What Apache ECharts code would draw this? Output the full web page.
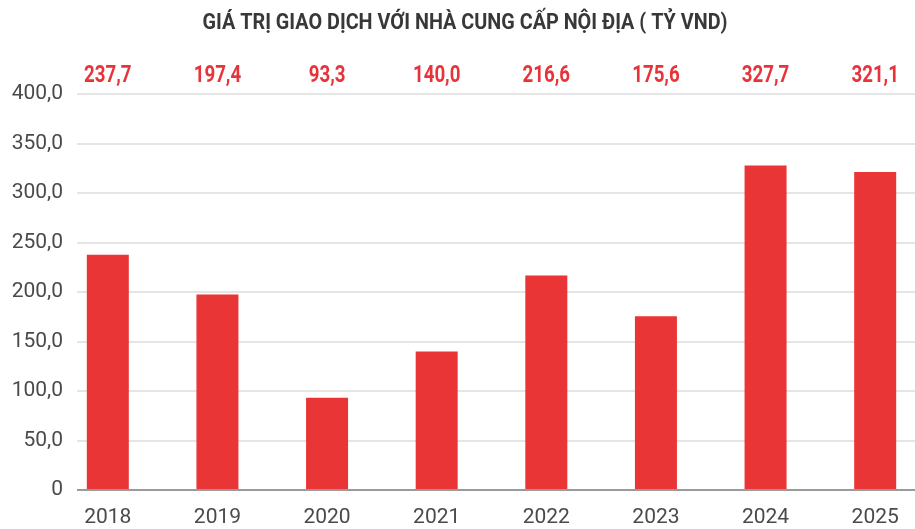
<!DOCTYPE html>
<html>
<head>
<meta charset="utf-8">
<script src="https://cdn.jsdelivr.net/npm/echarts@6/dist/echarts.min.js"></script>
<style>
  html, body { margin: 0; padding: 0; background: #ffffff; }
  #chart { width: 915px; height: 529px; }
</style>
</head>
<body>
<div id="chart"></div>
<script>
// Giá trị giao dịch với nhà cung cấp nội địa, tỷ VND
const years = ['2018', '2019', '2020', '2021', '2022', '2023', '2024', '2025'];
const values = [237.7, 197.4, 93.3, 140.0, 216.6, 175.6, 327.7, 321.1];
const yTicks = [0, 50, 100, 150, 200, 250, 300, 350, 400];
const titleText = 'GIÁ TRỊ GIAO DỊCH VỚI NHÀ CUNG CẤP NỘI ĐỊA ( TỶ VND)';

const fmt = v => v === 0 ? '0' : v.toFixed(1).replace('.', ',');
const font = '"Roboto", "Noto Sans", sans-serif';

const GRID_TOP = 94;
const GRID_BOTTOM = 39;

const chart = echarts.init(document.getElementById('chart'), null, { renderer: 'canvas' });

chart.setOption({
  animation: false,
  backgroundColor: '#ffffff',
  graphic: [
    {
      // condensed bold heading
      type: 'text',
      x: 465, y: 23,
      scaleX: 0.9,
      style: {
        text: titleText,
        fontFamily: font, fontWeight: 'bold', fontSize: 22,
        fill: '#383838', align: 'center', verticalAlign: 'middle'
      }
    }
  ],
  grid: [
    // gridlines and value axis
    { left: 77, right: 0, top: GRID_TOP, bottom: GRID_BOTTOM, outerBoundsMode: 'none' },
    // bars, categories and value captions (the last band runs past the right edge)
    { left: 53, width: 877, top: GRID_TOP, bottom: GRID_BOTTOM, outerBoundsMode: 'none' }
  ],
  xAxis: [
    { gridIndex: 0, type: 'category', data: years, show: false },
    {
      gridIndex: 1, type: 'category', data: years,
      axisLine: { show: false }, axisTick: { show: false },
      axisLabel: { fontFamily: font, fontSize: 21, color: '#4a4a4a', margin: 17 }
    }
  ],
  yAxis: [
    {
      gridIndex: 0, type: 'value', min: 0, max: 400, interval: 50,
      axisLine: { show: false }, axisTick: { show: false },
      splitLine: { lineStyle: { color: '#dcdcdc', width: 1.5 } },
      axisLabel: {
        fontFamily: font, fontSize: 21, color: '#4a4a4a', margin: 14,
        formatter: v => yTicks.includes(v) ? fmt(v) : ''
      }
    },
    { gridIndex: 1, type: 'value', min: 0, max: 400, interval: 50, show: false }
  ],
  series: [
    {
      type: 'bar', xAxisIndex: 1, yAxisIndex: 1,
      data: values, barWidth: 42,
      itemStyle: { color: '#ea3536' }
    },
    {
      // value captions in a row above the plot
      type: 'custom', xAxisIndex: 1, yAxisIndex: 1, clip: false,
      data: values.map((v, i) => [i, v]),
      renderItem: (params, api) => {
        const x = api.coord([api.value(0), 0])[0];
        return {
          type: 'text',
          x: x, y: params.coordSys.y - 18,
          scaleX: 0.78,
          style: {
            text: fmt(api.value(1)),
            fontFamily: font, fontWeight: 'bold', fontSize: 24,
            fill: '#e8333a', align: 'center', verticalAlign: 'middle'
          }
        };
      }
    },
    {
      // baseline at zero
      type: 'line', xAxisIndex: 0, yAxisIndex: 0, data: [],
      markLine: {
        silent: true, symbol: 'none', label: { show: false },
        lineStyle: { color: '#9a9a9a', width: 2, type: 'solid' },
        data: [{ yAxis: 0 }]
      }
    }
  ]
});
</script>
</body>
</html>
